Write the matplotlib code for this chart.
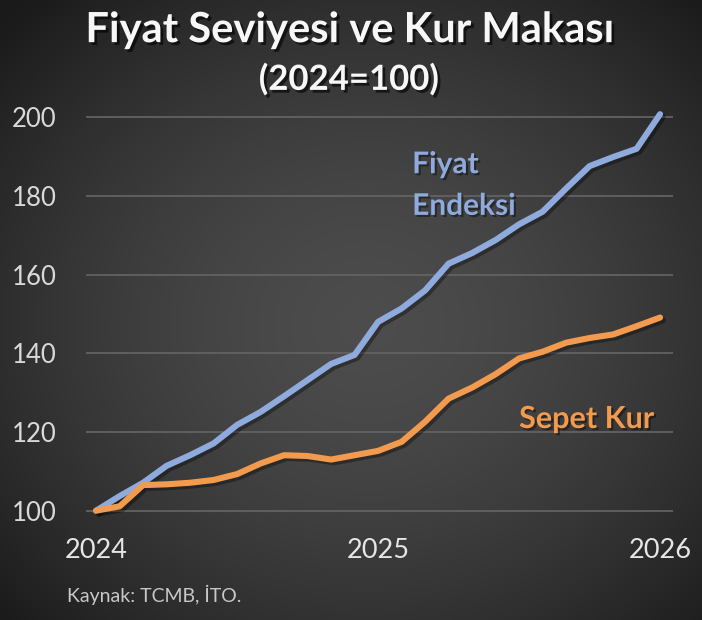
import numpy as np
import matplotlib
matplotlib.use("Agg")
import matplotlib.pyplot as plt
import matplotlib.patheffects as pe

plt.rcParams['font.family'] = ['Lato', 'DejaVu Sans']

# aylik veriler, Ocak 2024 = 100
months = list(range(25))
fiyat = [100, 103.7, 107.1, 111.4, 114.1, 117.1, 121.8, 125.1, 129.1, 133.2, 137.3, 139.6,
         148.0, 151.4, 156.0, 162.8, 165.5, 168.8, 172.8, 176.0, 181.9, 187.6, 189.9, 192.0, 200.8]
kur = [100, 101.1, 106.5, 106.7, 107.1, 107.8, 109.3, 112.0, 114.1, 113.9, 113.0, 114.1,
       115.2, 117.5, 122.6, 128.5, 131.3, 134.7, 138.7, 140.4, 142.7, 143.9, 144.8, 146.9, 149.1]
year_ticks = [0, 12, 24]
year_labels = ['2024', '2025', '2026']
y_ticks = [100, 120, 140, 160, 180, 200]

blue = '#8FAADC'
orange = '#F29B4E'

fig = plt.figure(figsize=(7.02, 6.2), dpi=100)

# arka plan: radyal gri gradyan
bg = fig.add_axes([0, 0, 1, 1])
gx, gy = np.meshgrid(np.linspace(-1, 1, 351), np.linspace(-1, 1, 310))
r = np.sqrt(((gx - 0.05) / 1.1) ** 2 + ((gy - 0.05) / 1.1) ** 2)
shade = 0.30 - 0.13 * np.clip(r, 0, 1.3) ** 1.6
bg.imshow(np.dstack([shade] * 3), extent=[0, 1, 0, 1], aspect='auto', interpolation='bilinear')
bg.axis('off')

ax = fig.add_axes([0.1225, 0.1573, 0.8362, 0.6725])
ax.set_facecolor('none')

shadow = [pe.SimpleLineShadow(offset=(2, -2), shadow_color='black', alpha=0.35), pe.Normal()]
ax.plot(months, fiyat, color=blue, lw=4.4, solid_capstyle='round', path_effects=shadow, zorder=3)
ax.plot(months, kur, color=orange, lw=4.4, solid_capstyle='round', path_effects=shadow, zorder=3)

ax.set_xlim(-0.43, 24.55)
ax.set_ylim(97, 203)
ax.set_yticks(y_ticks)
ax.set_xticks(year_ticks)
ax.set_xticklabels(year_labels)
ax.grid(axis='y', color='#626262', lw=1.3)
ax.set_axisbelow(True)
for s in ax.spines.values():
    s.set_visible(False)
ax.tick_params(axis='y', length=0, pad=21, labelsize=18.5, labelcolor='#D9D9D9')
ax.tick_params(axis='x', length=0, pad=11, labelsize=19.5, labelcolor='#E6E6E6')

txt_shadow = [pe.SimplePatchShadow(offset=(1.5, -1.5), shadow_rgbFace='black', alpha=0.4), pe.Normal()]
ax.text(13.45, 185.8, 'Fiyat', color=blue, fontsize=21.5, fontweight='bold',
        ha='left', va='baseline', path_effects=txt_shadow)
ax.text(13.45, 175.2, 'Endeksi', color=blue, fontsize=21.5, fontweight='bold',
        ha='left', va='baseline', path_effects=txt_shadow)
ax.text(18.0, 121.0, 'Sepet Kur', color=orange, fontsize=22, fontweight='bold',
        ha='left', va='baseline', path_effects=txt_shadow)

title_shadow = [pe.SimplePatchShadow(offset=(2, -2), shadow_rgbFace='black', alpha=0.6), pe.Normal()]
fig.text(0.498, 0.932, 'Fiyat Seviyesi ve Kur Makası', color='#F7F7F7', fontsize=30,
         fontweight='bold', ha='center', va='baseline', path_effects=title_shadow)
fig.text(0.497, 0.855, '(2024=100)', color='#F7F7F7', fontsize=25,
         fontweight='bold', ha='center', va='baseline', path_effects=title_shadow)
fig.text(0.0954, 0.029, 'Kaynak: TCMB, İTO.', color='#C8C8C8', fontsize=14,
         ha='left', va='baseline')

fig.savefig('out.png', dpi=100)
